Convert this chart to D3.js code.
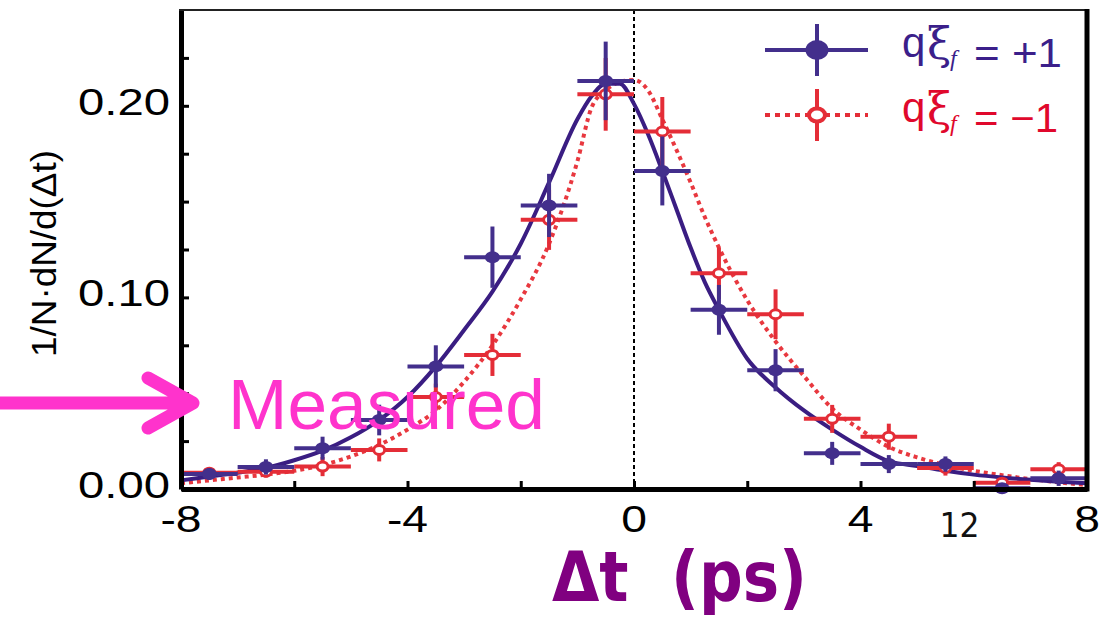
<!DOCTYPE html>
<html>
<head>
<meta charset="utf-8">
<script src="https://cdn.jsdelivr.net/npm/d3@7"></script>
<style>
  body { margin: 0; background: #fff; }
</style>
</head>
<body>
<div class="chart"></div>
<script>
// bin centres (ps) and the two measured series
var binCenters = [-7.5, -6.5, -5.5, -4.5, -3.5, -2.5, -1.5, -0.5, 0.5, 1.5, 2.5, 3.5, 4.5, 5.5, 6.5, 7.5];
var plusVals = [0.0078, 0.0115, 0.0213, 0.036, 0.064, 0.121, 0.148, 0.213, 0.166, 0.0935, 0.062, 0.0186, 0.013, 0.013, 0.0004, 0.0056];
var plusErr  = [0.003, 0.004, 0.006, 0.008, 0.011, 0.016, 0.0165, 0.0205, 0.018, 0.013, 0.011, 0.006, 0.0047, 0.004, 0.001, 0.004];
var minusVals = [0.0085, 0.009, 0.0117, 0.0204, 0.048, 0.07, 0.1405, 0.206, 0.1866, 0.1126, 0.0912, 0.0366, 0.0273, 0.011, 0.0033, 0.0103];
var minusErr  = [0.003, 0.003, 0.005, 0.006, 0.007, 0.011, 0.0157, 0.019, 0.018, 0.0135, 0.013, 0.0073, 0.0068, 0.004, 0.002, 0.0037];

// fitted curves
var fitX = [-8, -7.5, -7, -6.5, -6, -5.5, -5, -4.5, -4, -3.5, -3, -2.5, -2, -1.5, -1, -0.75, -0.5, -0.25, 0, 0.25, 0.5, 0.75, 1, 1.25, 1.5, 2, 2.5, 3, 3.5, 4, 4.5, 5, 5.5, 6, 6.5, 7, 7.5, 8];
var plusFit = [0.0045, 0.0065, 0.0085, 0.011, 0.015, 0.020, 0.027, 0.036, 0.048, 0.064, 0.083, 0.103, 0.128, 0.160, 0.193, 0.205, 0.2115, 0.2115, 0.201, 0.185, 0.166, 0.146, 0.126, 0.108, 0.0935, 0.068, 0.053, 0.041, 0.031, 0.022, 0.0145, 0.012, 0.0095, 0.0075, 0.006, 0.0048, 0.0038, 0.003];
var minusFit = [0.003, 0.0045, 0.006, 0.0075, 0.0095, 0.0125, 0.017, 0.023, 0.031, 0.041, 0.056, 0.075, 0.099, 0.128, 0.171, 0.199, 0.208, 0.2125, 0.2135, 0.208, 0.193, 0.177, 0.160, 0.142, 0.126, 0.0985, 0.077, 0.059, 0.042, 0.031, 0.022, 0.0165, 0.0125, 0.0095, 0.0072, 0.0052, 0.0035, 0.002];

var xTickValues = [-8, -6, -4, -2, 0, 2, 4, 6, 8];
var xLabelValues = [-8, -4, 0, 4, 8];
var xLabels = ["-8", "-4", "0", "4", "8"];
var yTickValues = [0, 0.025, 0.05, 0.075, 0.1, 0.125, 0.15, 0.175, 0.2, 0.225];
var yLabelValues = [0, 0.1, 0.2];
var yLabels = ["0.00", "0.10", "0.20"];

var svgWidth = 1111;
var svgHeight = 619;
var margin = { top: 10, right: 24, bottom: 130, left: 181 };
var width = svgWidth - margin.left - margin.right;
var height = svgHeight - margin.top - margin.bottom;

var blue = "#432f8c", blueLine = "#3a1d82";
var red = "#e42d37", redLine = "#e8383f";
var font = "'Liberation Sans', Arial, sans-serif";

var svg = d3.select(".chart").append("svg")
  .attr("width", svgWidth)
  .attr("height", svgHeight);

var chartGroup = svg.append("g")
  .attr("transform", `translate(${margin.left}, ${margin.top})`);

var xScale = d3.scaleLinear().domain([-8, 8]).range([0, width]);
var yScale = d3.scaleLinear().domain([0, 0.25]).range([height, 0]);

// dotted line at zero
chartGroup.append("line")
  .attr("x1", xScale(0)).attr("x2", xScale(0))
  .attr("y1", 0).attr("y2", height)
  .attr("stroke", "#000").attr("stroke-width", 2)
  .attr("stroke-dasharray", "4,3");

// "Measured" annotation (sits under the data)
svg.append("text")
  .attr("x", 228).attr("y", 429)
  .attr("textLength", 317).attr("lengthAdjust", "spacingAndGlyphs")
  .style("font-family", font).style("font-size", "70px")
  .attr("fill", "#ff33cc")
  .text("Measured");

// fits
var line = d3.line()
  .x(d => xScale(d[0]))
  .y(d => yScale(d[1]))
  .curve(d3.curveMonotoneX);

chartGroup.append("path")
  .datum(fitX.map((v, i) => [v, minusFit[i]]))
  .attr("d", line)
  .attr("fill", "none").attr("stroke", redLine)
  .attr("stroke-width", 4).attr("stroke-dasharray", "4,4");

chartGroup.append("path")
  .datum(fitX.map((v, i) => [v, plusFit[i]]))
  .attr("d", line)
  .attr("fill", "none").attr("stroke", blueLine)
  .attr("stroke-width", 4);

// error bars + markers
function drawSeries(vals, errs, color, filled) {
  var data = binCenters.map((c, i) => ({ x: c, v: vals[i], e: errs[i] }));
  var g = chartGroup.append("g");
  g.selectAll(".hbar").data(data).enter().append("line")
    .attr("x1", d => xScale(d.x - 0.5)).attr("x2", d => xScale(d.x + 0.5))
    .attr("y1", d => yScale(d.v)).attr("y2", d => yScale(d.v))
    .attr("stroke", color).attr("stroke-width", 4);
  g.selectAll(".vbar").data(data).enter().append("line")
    .attr("x1", d => xScale(d.x)).attr("x2", d => xScale(d.x))
    .attr("y1", d => yScale(Math.max(0, d.v - d.e))).attr("y2", d => yScale(d.v + d.e))
    .attr("stroke", color).attr("stroke-width", 4);
  g.selectAll("ellipse").data(data).enter().append("ellipse")
    .attr("cx", d => xScale(d.x)).attr("cy", d => yScale(d.v))
    .attr("rx", filled ? 7.5 : 5.5).attr("ry", filled ? 6 : 4.5)
    .attr("fill", filled ? color : "#fff")
    .attr("stroke", filled ? "none" : color)
    .attr("stroke-width", 3);
}
drawSeries(minusVals, minusErr, red, false);
drawSeries(plusVals, plusErr, blue, true);

// axes with inward ticks
var xAxis = chartGroup.append("g")
  .attr("transform", `translate(0, ${height})`)
  .call(d3.axisBottom(xScale).tickValues(xTickValues).tickSize(-8).tickSizeOuter(0).tickFormat(""));
var yAxis = chartGroup.append("g")
  .call(d3.axisLeft(yScale).tickValues(yTickValues).tickSize(-8).tickSizeOuter(0).tickFormat(""));
[xAxis, yAxis].forEach(function(a) {
  a.select(".domain").attr("stroke", "#000").attr("stroke-width", 5);
  a.selectAll(".tick line").attr("stroke", "#000").attr("stroke-width", 3);
});

// top and right frame
chartGroup.append("line")
  .attr("x1", -2).attr("x2", width).attr("y1", 0).attr("y2", 0)
  .attr("stroke", "#222").attr("stroke-width", 2);
chartGroup.append("line")
  .attr("x1", width).attr("x2", width).attr("y1", -1).attr("y2", height + 2.5)
  .attr("stroke", "#000").attr("stroke-width", 5);

// tick labels
chartGroup.selectAll(".xlab").data(xLabelValues).enter().append("text")
  .attr("transform", d => `translate(${xScale(d)}, ${height + 43}) scale(1.25, 1)`)
  .attr("text-anchor", "middle")
  .style("font-family", font).style("font-size", "37px")
  .text((d, i) => xLabels[i]);

chartGroup.selectAll(".ylab").data(yLabelValues).enter().append("text")
  .attr("x", -11).attr("y", d => yScale(d) + 9)
  .attr("text-anchor", "end")
  .attr("textLength", 92).attr("lengthAdjust", "spacingAndGlyphs")
  .style("font-family", font).style("font-size", "36px")
  .text((d, i) => yLabels[i]);

// stray "12" label on the x axis
chartGroup.append("text")
  .attr("x", xScale(5.75)).attr("y", height + 48)
  .attr("text-anchor", "middle")
  .attr("textLength", 40).attr("lengthAdjust", "spacingAndGlyphs")
  .style("font-family", "'DejaVu Sans', sans-serif").style("font-size", "34px")
  .attr("fill", "#111")
  .text("12");

// axis titles
svg.append("text")
  .attr("transform", "translate(56, 253.5) rotate(-90)")
  .attr("text-anchor", "middle")
  .attr("textLength", 207).attr("lengthAdjust", "spacingAndGlyphs")
  .style("font-family", font).style("font-size", "35px")
  .text("1/N·dN/d(Δt)");

svg.append("text")
  .attr("x", 552).attr("y", 601)
  .attr("textLength", 255).attr("lengthAdjust", "spacingAndGlyphs")
  .style("font-family", "'DejaVu Sans Condensed', 'Liberation Sans Narrow', 'DejaVu Sans', sans-serif")
  .style("font-size", "70px").style("font-weight", "bold")
  .attr("fill", "#800080")
  .text("Δt\u00a0\u00a0(ps)");

// legend
var legend = [
  { y: 50, color: blue, textColor: "#3b1f8a", filled: true, label: "= +1" },
  { y: 115, color: red, textColor: "#e0082c", filled: false, label: "= \u22121" }
];
legend.forEach(function(l) {
  var g = svg.append("g");
  g.append("line")
    .attr("x1", 765).attr("x2", 868).attr("y1", l.y).attr("y2", l.y)
    .attr("stroke", l.color).attr("stroke-width", 4)
    .attr("stroke-dasharray", l.filled ? null : "5,5");
  g.append("line")
    .attr("x1", 817).attr("x2", 817).attr("y1", l.y - 26).attr("y2", l.y + 26)
    .attr("stroke", l.color).attr("stroke-width", 4);
  g.append("ellipse")
    .attr("cx", 817).attr("cy", l.y)
    .attr("rx", l.filled ? 11.5 : 8).attr("ry", l.filled ? 10 : 6.5)
    .attr("fill", l.filled ? l.color : "#fff")
    .attr("stroke", l.filled ? "none" : l.color).attr("stroke-width", 4);
  var label = g.append("text")
    .attr("x", 902).attr("y", l.y + 7)
    .style("font-family", font).style("font-size", "42px")
    .attr("fill", l.textColor);
  label.append("tspan").text("q");
  label.append("tspan")
    .attr("x", 927).attr("dy", 2)
    .style("font-family", "'DejaVu Serif', 'Liberation Serif', serif").style("font-size", "44px")
    .text("ξ");
  label.append("tspan")
    .attr("x", 950).attr("dy", 7)
    .style("font-family", "'Liberation Serif', serif").style("font-size", "24px")
    .style("font-style", "italic")
    .text("f");
  g.append("text")
    .attr("x", 974).attr("y", l.y + 17)
    .attr("textLength", l.filled ? 88 : 84).attr("lengthAdjust", "spacingAndGlyphs")
    .style("font-family", font).style("font-size", "40px")
    .attr("fill", l.textColor).text(l.label);
});

// magenta arrow pointing at the axis
svg.append("path")
  .attr("d", "M0,403 H188 M148,378 L193,403 L148,428")
  .attr("fill", "none").attr("stroke", "#ff33cc")
  .attr("stroke-width", 13)
  .attr("stroke-linecap", "round").attr("stroke-linejoin", "round");
</script>
</body>
</html>
